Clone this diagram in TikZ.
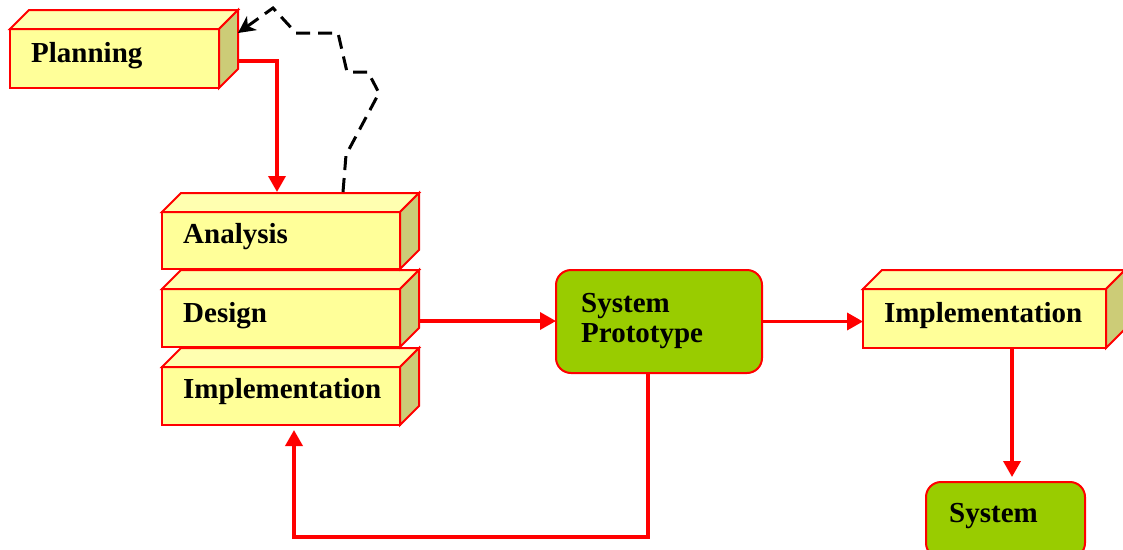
\documentclass[tikz,border=0pt]{standalone}
\usepackage{fontspec}
\setmainfont{Liberation Serif}
\usetikzlibrary{arrows.meta,calc}
\definecolor{frontc}{HTML}{FFFF99}
\definecolor{topc}{HTML}{FFFFB0}
\definecolor{sidec}{HTML}{CCCC77}
\definecolor{greenc}{HTML}{99CC00}
\newcommand\cubefaces[2]{%
  \filldraw[face, fill=topc] (#1.north west) -- ++(#2,-#2) -- ($(#1.north east)+(#2,-#2)$) -- (#1.north east) -- cycle;
  \filldraw[face, fill=sidec] (#1.north east) -- ($(#1.north east)+(#2,-#2)$) -- ($(#1.south east)+(#2,-#2)$) -- (#1.south east) -- cycle;
}
\begin{document}
\begin{tikzpicture}[x=1pt,y=-1pt,
  front/.style={draw=red, line width=2pt, fill=frontc, outer sep=0pt, inner sep=0pt, anchor=north west},
  face/.style={draw=red, line width=2pt, line join=miter},
  gbox/.style={draw=red, line width=2pt, fill=greenc, rounded corners=15pt, outer sep=0pt, inner sep=0pt, anchor=north west},
  lbl/.style={anchor=base west, inner sep=0pt, font=\fontsize{29}{30}\selectfont\bfseries},
  flow/.style={draw=red, line width=3.5pt, -{Triangle[length=16pt,width=17pt]}},
  back/.style={draw=black, line width=3pt, dash pattern=on 14pt off 8pt, -{Stealth[length=17pt,width=17pt,inset=5pt]}}]
\clip (0,0) rectangle (1123,549);
\fill[white] (0,0) rectangle (1123,549);

% Planning
\node[front, minimum width=209pt, minimum height=59pt] (plan) at (10,29) {};
\cubefaces{plan}{19}
\node[lbl] (planT) at (31,62) {Planning};

% stacked boxes
\node[front, minimum width=238pt, minimum height=58pt] (imp) at (162,367) {};
\cubefaces{imp}{19}
\node[front, minimum width=238pt, minimum height=58pt] (des) at (162,289) {};
\cubefaces{des}{19}
\node[front, minimum width=238pt, minimum height=57pt] (ana) at (162,212) {};
\cubefaces{ana}{19}
\node[lbl] (anaT) at (183,243) {Analysis};
\node[lbl] (desT) at (183,322) {Design};
\node[lbl] (impT) at (183,398) {Implementation};

% System prototype
\node[gbox, minimum width=206pt, minimum height=103pt] (sp) at (556,270) {};
\node[lbl] (spT1) at (581,312) {System};
\node[lbl] (spT2) at (581,342) {Prototype};

% Implementation (right)
\node[front, minimum width=243pt, minimum height=59pt] (impR) at (863,289) {};
\cubefaces{impR}{19}
\node[lbl] (impRT) at (884,322) {Implementation};

% System
\node[gbox, minimum width=159pt, minimum height=76pt] (sys) at (926,482) {};
\node[lbl] (sysT) at (949,522) {System};

% connectors
\coordinate (pStart) at ($(plan.east)+(19,2.5)$);
\coordinate (aTop) at ($(ana.north)+(-4,-20)$);
\draw[flow] (pStart) -| (aTop);

\coordinate (dOut) at ($(des.east)+(19,3)$);
\draw[flow] (dOut) -- (dOut -| sp.west);

\draw[flow] (sp.east) -- (sp.east -| impR.west);

\coordinate (iOut) at ($(impR.south)+(27.5,0)$);
\draw[flow, shorten >=5pt] (iOut) -- (iOut |- sys.north);

\coordinate (spOut) at ($(sp.south)+(-11,0)$);
\coordinate (impIn) at ($(imp.south)+(13,5)$);
\draw[flow] (spOut) -- ++(0,164) -| (impIn);

\coordinate (dStart) at ($(ana.north)+(62,-20)$);
\coordinate (dEnd) at ($(plan.north east)+(19,4)$);
\draw[back] (dStart) -- (346,155) -- (379,93) -- (368,72) -- (347,72) -- (338,33) -- (296,33) -- (273,8) -- (dEnd);
\end{tikzpicture}
\end{document}
